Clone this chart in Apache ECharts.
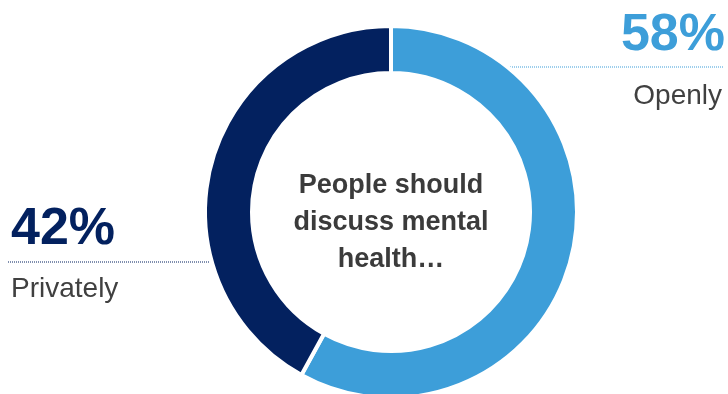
<!DOCTYPE html>
<html>
<head>
<meta charset="utf-8">
<style>
  html, body { margin: 0; padding: 0; background: #ffffff; }
  #chart { width: 728px; height: 394px; }
</style>
<script src="https://cdn.jsdelivr.net/npm/echarts@6/dist/echarts.min.js"></script>
</head>
<body>
<div id="chart"></div>
<script>
// Share of respondents by how they think mental health should be discussed
const categories = ['Openly', 'Privately'];
const shares = [58, 42];
const sliceColors = ['#3d9ed9', '#03215f'];
const centerCaption = 'People should\ndiscuss mental\nhealth…';

const textFont = '"Liberation Sans", Arial, Helvetica, sans-serif';
const labelGray = '#404040';

const chart = echarts.init(document.getElementById('chart'), null, { renderer: 'canvas' });

chart.setOption({
  animation: false,
  backgroundColor: '#ffffff',
  series: [{
    type: 'pie',
    center: [391, 212],
    radius: [139, 186],
    startAngle: 90,
    clockwise: true,
    silent: true,
    label: { show: false },
    labelLine: { show: false },
    emphasis: { disabled: true },
    itemStyle: { borderColor: '#ffffff', borderWidth: 4 },
    data: categories.map((name, i) => ({
      name: name,
      value: shares[i],
      itemStyle: { color: sliceColors[i] }
    }))
  }],
  graphic: [
    // Openly callout (right)
    {
      type: 'line',
      shape: { x1: 504, y1: 67, x2: 723, y2: 67 },
      style: { stroke: sliceColors[0], lineWidth: 1, lineDash: [1, 1] },
      silent: true
    },
    {
      type: 'text',
      style: {
        x: 725, y: 36, text: shares[0] + '%',
        textAlign: 'right', textVerticalAlign: 'middle',
        font: 'bold 52px ' + textFont, fill: sliceColors[0]
      },
      silent: true
    },
    {
      type: 'text',
      style: {
        x: 722, y: 96, text: categories[0],
        textAlign: 'right', textVerticalAlign: 'middle',
        font: '28px ' + textFont, fill: labelGray
      },
      silent: true
    },
    // Privately callout (left)
    {
      type: 'line',
      shape: { x1: 8, y1: 262, x2: 215, y2: 262 },
      style: { stroke: sliceColors[1], lineWidth: 1, lineDash: [1, 1] },
      silent: true
    },
    {
      type: 'text',
      style: {
        x: 11, y: 230, text: shares[1] + '%',
        textAlign: 'left', textVerticalAlign: 'middle',
        font: 'bold 52px ' + textFont, fill: sliceColors[1]
      },
      silent: true
    },
    {
      type: 'text',
      style: {
        x: 11, y: 289, text: categories[1],
        textAlign: 'left', textVerticalAlign: 'middle',
        font: '28px ' + textFont, fill: labelGray
      },
      silent: true
    },
    // Caption in the middle of the ring
    {
      type: 'text',
      style: {
        x: 391, y: 223, text: centerCaption,
        textAlign: 'center', textVerticalAlign: 'middle',
        font: 'bold 27px ' + textFont, lineHeight: 37, fill: '#3b3b3b'
      },
      silent: true
    }
  ]
});
</script>
</body>
</html>
